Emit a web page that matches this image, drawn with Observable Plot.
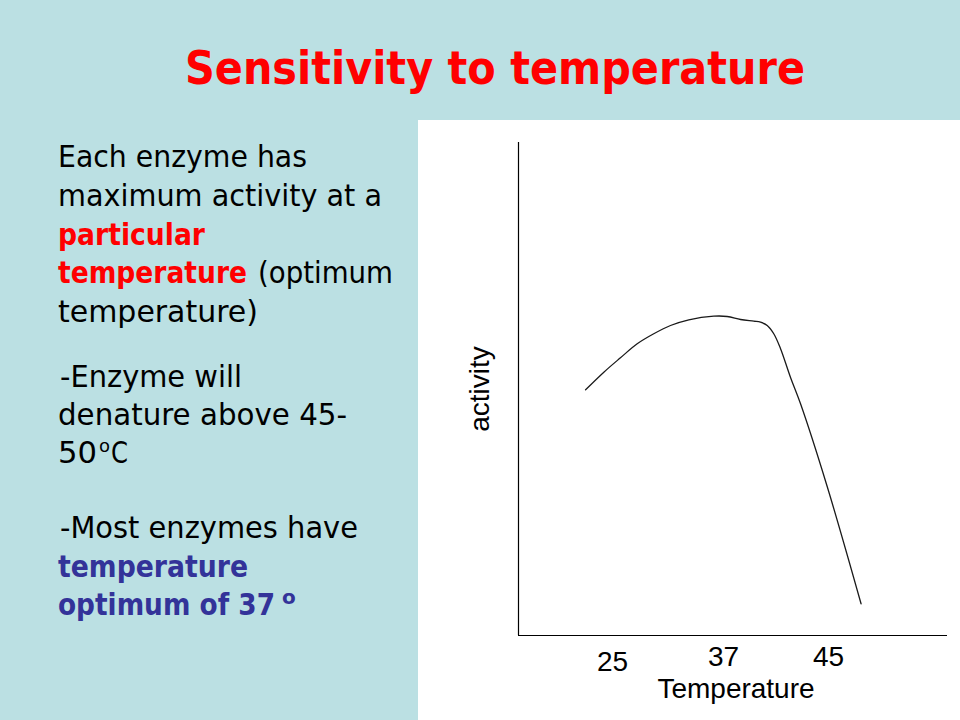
<!DOCTYPE html>
<html>
<head>
<meta charset="utf-8">
<script src="https://cdn.jsdelivr.net/npm/d3@7"></script>
<script src="https://cdn.jsdelivr.net/npm/@observablehq/plot@0.6"></script>
<style>
  html, body { margin: 0; padding: 0; background: #BBE0E3; overflow: hidden; }
  #slide { position: relative; width: 960px; height: 720px; background: #BBE0E3; }
  #text { position: absolute; left: 0; top: 0; }
  #panel { position: absolute; left: 418px; top: 120px; width: 542px; height: 600px; background: #ffffff; }
  .t { font-family: "DejaVu Sans", sans-serif; font-size: 30px; fill: #000; }
  .b { font-weight: bold; }
  .red { fill: #FF0000; }
  .blue { fill: #333399; }
</style>
</head>
<body>
<div id="slide">
  <svg id="text" width="960" height="720">
    <text x="185" y="84" textLength="620" lengthAdjust="spacingAndGlyphs" style="font-family:'DejaVu Sans',sans-serif;font-weight:bold;font-size:46px;fill:#FF0000">Sensitivity to temperature</text>

    <text class="t" x="58" y="167" textLength="249" lengthAdjust="spacingAndGlyphs">Each enzyme has</text>
    <text class="t" x="58" y="206" textLength="324" lengthAdjust="spacingAndGlyphs">maximum activity at a</text>
    <text class="t b red" x="58" y="245" textLength="147" lengthAdjust="spacingAndGlyphs">particular</text>
    <text class="t b red" x="58" y="283" textLength="189" lengthAdjust="spacingAndGlyphs">temperature</text>
    <text class="t" x="258" y="283" textLength="135" lengthAdjust="spacingAndGlyphs">(optimum</text>
    <text class="t" x="58" y="322" textLength="200" lengthAdjust="spacingAndGlyphs">temperature)</text>

    <text class="t" x="60" y="387" textLength="182" lengthAdjust="spacingAndGlyphs">-Enzyme will</text>
    <text class="t" x="58" y="425" textLength="289" lengthAdjust="spacingAndGlyphs">denature above 45-</text>
    <text class="t" x="58" y="463"><tspan textLength="39" lengthAdjust="spacingAndGlyphs">50</tspan><tspan x="99" dy="-11" style="font-size:18px">o</tspan><tspan x="111" dy="11" textLength="17" lengthAdjust="spacingAndGlyphs">C</tspan></text>

    <text class="t" x="60" y="538" textLength="298" lengthAdjust="spacingAndGlyphs">-Most enzymes have</text>
    <text class="t b blue" x="58" y="577" textLength="190" lengthAdjust="spacingAndGlyphs">temperature</text>
    <text class="t b blue" x="58" y="615"><tspan textLength="217" lengthAdjust="spacingAndGlyphs">optimum of 37</tspan><tspan x="282" dy="-11" style="font-size:20px">o</tspan></text>
  </svg>
  <div id="panel"></div>
</div>
<script>
// Temperature (°C) along the curve
const temperature = [22.08, 24.06, 25.86, 27.67, 29.46, 31.27, 33.25, 35.95, 37.28, 38.30, 39.31, 39.82, 40.33, 40.83, 41.34, 42.10, 42.87, 44.90, 47.49];
// Relative activity (0–100 of the axis height)
const activity    = [49.84, 53.41, 56.33, 59.17, 61.20, 62.88, 64.04, 64.77, 64.71, 64.10, 63.75, 63.55, 62.88, 61.20, 58.22, 52.39, 47.00, 30.22, 6.43];
// Tick labels on the temperature axis
const tickLabels = [25, 37, 45];
// Axis titles
const xTitle = "Temperature";
const yTitle = "activity";

const curve = temperature.map((t, i) => ({t, a: activity[i]}));

const chart = Plot.plot({
  width: 542,
  height: 600,
  marginLeft: 100,
  marginRight: 13,
  marginTop: 22,
  marginBottom: 85,
  style: {background: "#ffffff", fontFamily: "'Liberation Sans', Arial, sans-serif", color: "#000"},
  x: {type: "linear", domain: [14.8, 25, 37, 45, 54.1], range: [100, 194, 305, 410, 529], axis: null},
  y: {domain: [0, 100], axis: null},
  marks: [
    Plot.ruleY([0], {stroke: "#000", strokeWidth: 1.2}),
    Plot.ruleX([14.8], {stroke: "#000", strokeWidth: 1.2}),
    Plot.line(curve, {x: "t", y: "a", curve: "catmull-rom", stroke: "#1a1a1a", strokeWidth: 1.3}),
    Plot.text(tickLabels.slice(0, 1), {x: d => d, frameAnchor: "bottom", dy: 35, lineAnchor: "bottom", fontSize: 28, fill: "#000"}),
    Plot.text(tickLabels.slice(1), {x: d => d, frameAnchor: "bottom", dy: 30, lineAnchor: "bottom", fontSize: 28, fill: "#000"}),
    Plot.text([xTitle], {frameAnchor: "bottom", dx: 3, dy: 62, lineAnchor: "bottom", fontSize: 28, fill: "#000"}),
    Plot.text([yTitle], {frameAnchor: "left", rotate: -90, dx: -30, textAnchor: "middle", lineAnchor: "bottom", fontSize: 28, fill: "#000"})
  ]
});
document.getElementById("panel").appendChild(chart);
</script>
</body>
</html>
